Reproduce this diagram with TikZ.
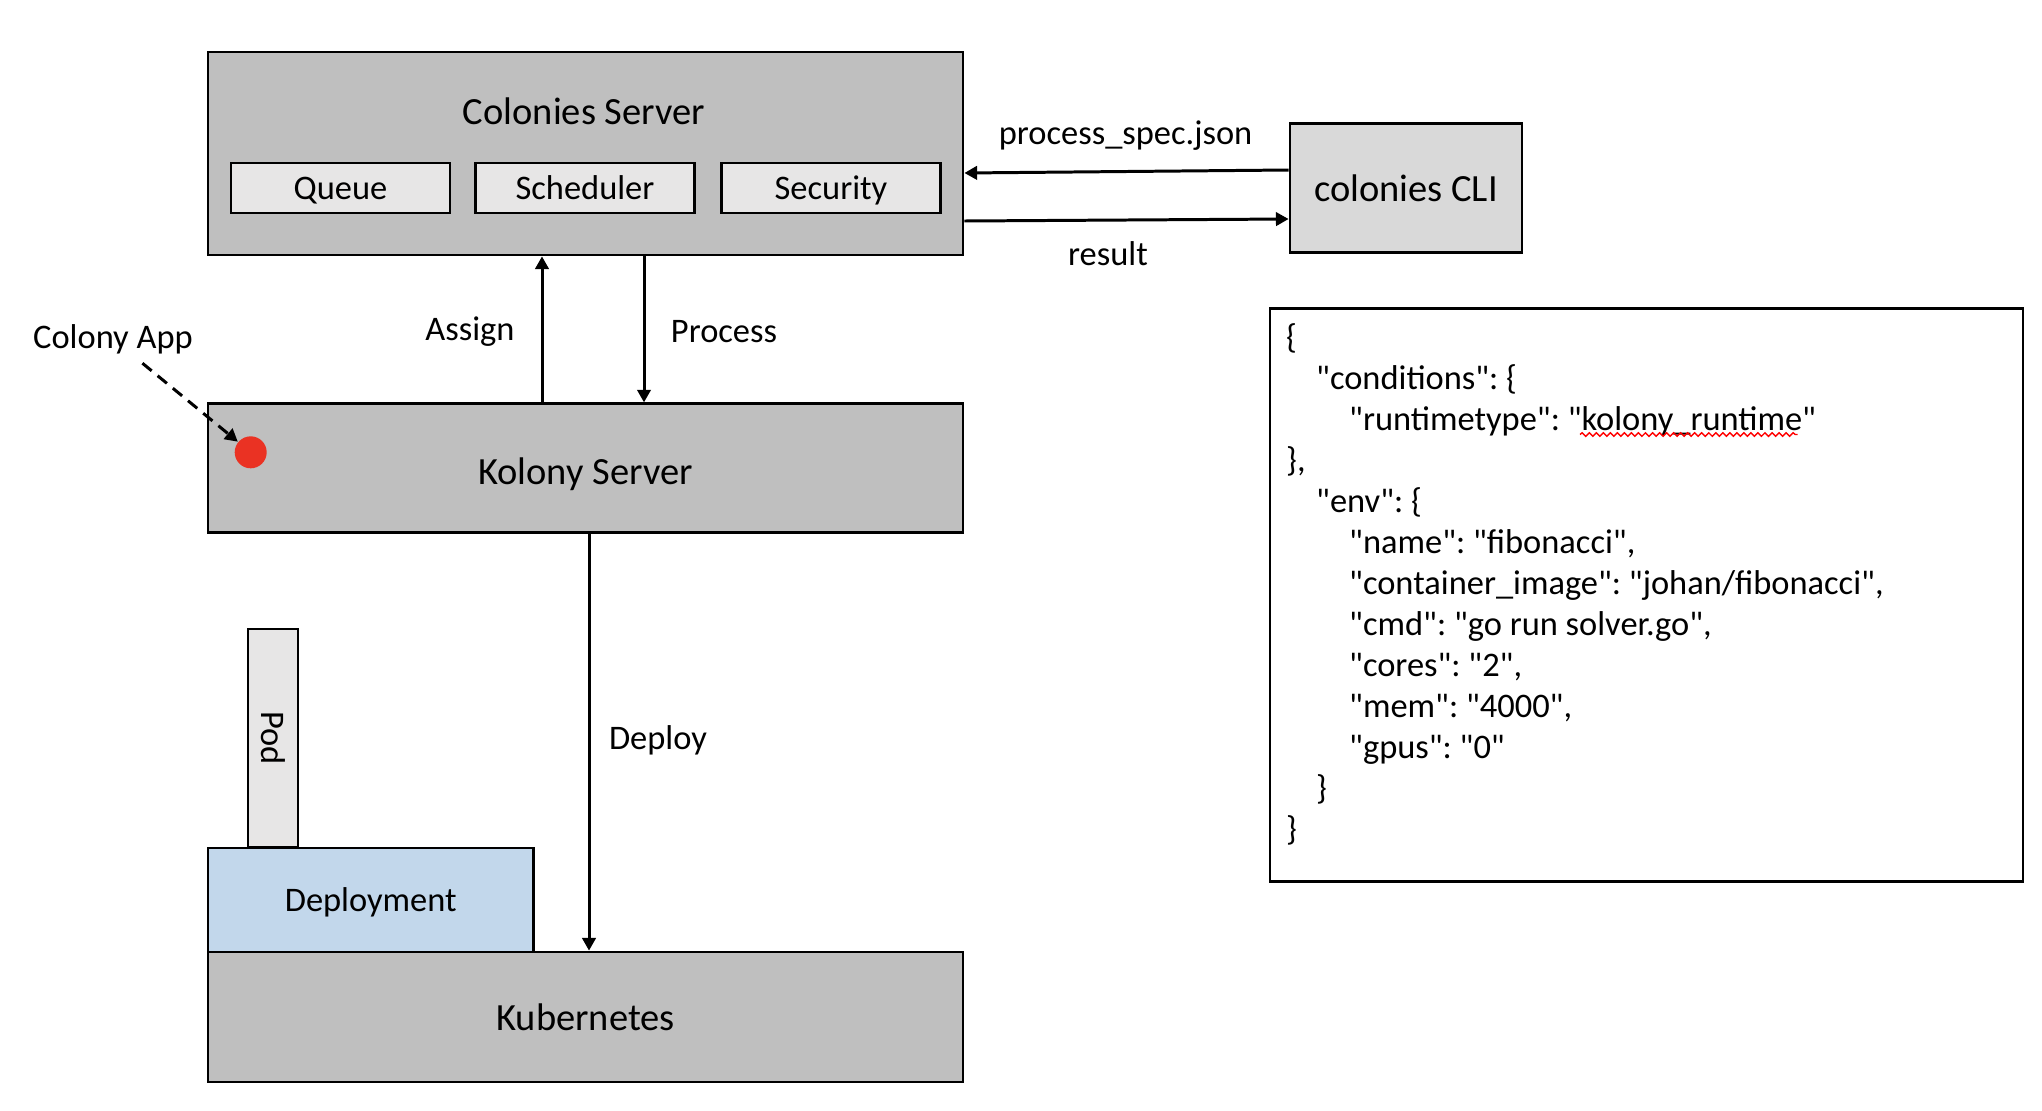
\documentclass[tikz,border=0pt]{standalone}
\usepackage{fontspec}
\setmainfont{Carlito}
\newfontfamily\jsonfont{Carlito}
\usepackage{xcolor}
\usetikzlibrary{arrows.meta, decorations.pathmorphing}

\definecolor{servergray}{RGB}{191,191,191}
\definecolor{partgray}{RGB}{231,230,230}
\definecolor{cligray}{RGB}{217,217,217}
\definecolor{deployblue}{RGB}{194,215,235}
\definecolor{appred}{RGB}{234,50,35}

\newcommand{\serverfont}{\fontsize{10.95}{13}\selectfont}
\newcommand{\labelfont}{\fontsize{9.8}{11.88}\selectfont}

\frenchspacing

\begin{document}
\begin{tikzpicture}[
        box/.style={draw, line width=0.8pt, fill=servergray, inner sep=0pt, font=\serverfont},
        part/.style={draw, line width=0.8pt, fill=partgray, inner sep=0pt, minimum width=2.19cm, minimum height=0.5cm, text height=0.22cm, text depth=0pt, font=\labelfont},
        arr/.style={-{Triangle[length=3.6pt, width=3.8pt]}, line width=0.85pt},
        lbl/.style={inner sep=0pt, font=\labelfont}
    ]
        \useasboundingbox (0, 0) rectangle (20.42, 11.10);

        \node[box, minimum width=7.55cm, minimum height=2.03cm] at (5.855, 9.565) (colonies) {};
        \node[lbl, font=\serverfont] at (5.84, 9.99) (colonies_t) {Colonies Server};
        \node[part] at (3.405, 9.22) (queue) {Queue};
        \node[part] at (5.85, 9.22) (sched) {Scheduler};
        \node[part] at (8.31, 9.22) (secu) {Security};

        \node[box, minimum width=7.55cm, minimum height=1.29cm, text height=0.32cm, text depth=0pt] at (5.855, 6.417) (kolony) {Kolony Server};
        \node[circle, fill=appred, minimum size=0.32cm, inner sep=0pt] at (2.507, 6.577) (app_dot) {};
        \node[lbl, inner sep=2.5pt] at (1.13, 7.71) (app) {Colony App};

        \node[draw, line width=0.8pt, fill=partgray, rotate=-90, minimum width=2.18cm, minimum height=0.50cm, inner sep=0pt, font=\labelfont] at (2.73, 3.72) (pod) {Pod};
        \node[draw, line width=0.8pt, fill=deployblue, minimum width=3.255cm, minimum height=1.04cm, inner sep=0pt, text depth=0pt, font=\labelfont] at (3.7075, 2.10) (deploy) {Deployment};
        \node[box, minimum width=7.55cm, minimum height=1.30cm] at (5.855, 0.93) (kube) {Kubernetes};

        \node[box, fill=cligray, minimum width=2.32cm, minimum height=1.29cm] at (14.06, 9.22) (cli) {colonies CLI};

        \node[draw, line width=0.8pt, minimum width=7.53cm, minimum height=5.73cm] at (16.464, 5.148) (spec) {};
        \node[lbl, font=\fontsize{9.8}{11.66}\jsonfont, anchor=north west, align=left] at (12.855, 7.872) (spec_t) {\{\\
            \hspace*{0.30cm}"conditions": \{\\
            \hspace*{0.63cm}"runtimetype": "kolony\_runtime"\\
            \},\\
            \hspace*{0.30cm}"env": \{\\
            \hspace*{0.63cm}"name": "fibonacci",\\
            \hspace*{0.63cm}"container\_image": "johan/fibonacci",\\
            \hspace*{0.63cm}"cmd": "go run solver.go",\\
            \hspace*{0.63cm}"cores": "2",\\
            \hspace*{0.63cm}"mem": "4000",\\
            \hspace*{0.63cm}"gpus": "0"\\
            \hspace*{0.30cm}\}\\
            \}};
        \draw[red, line width=0.4pt, decorate, decoration={snake, amplitude=0.5pt, segment length=2pt}] (15.80, 6.755) -- (17.975, 6.755);

        \node[lbl] at (4.70, 7.78) (assign) {Assign};
        \node[lbl] at (7.24, 7.78) (process) {Process};
        \node[lbl] at (6.58, 3.70) (deploy_t) {Deploy};
        \node[lbl] at (11.256, 9.743) (spec_in) {process\_spec.json};
        \node[lbl] at (11.08, 8.56) (result) {result};

        \draw[arr] ([xshift=-0.435cm]kolony.north) -- ([xshift=-0.435cm]colonies.south);
        \draw[arr] ([xshift=0.585cm]colonies.south) -- ([xshift=0.585cm]kolony.north);
        \draw[arr] ([xshift=0.035cm]kolony.south) -- ([xshift=0.035cm]kube.north);
        \draw[arr] ([yshift=0.18cm]cli.west) -- ([yshift=-0.195cm]colonies.east);
        \draw[arr] ([yshift=-0.675cm]colonies.east) -- ([yshift=-0.31cm]cli.west);
        \draw[arr, dash pattern=on 3.4pt off 2.2pt] (app) -- (app_dot);
    \end{tikzpicture}
\end{document}
